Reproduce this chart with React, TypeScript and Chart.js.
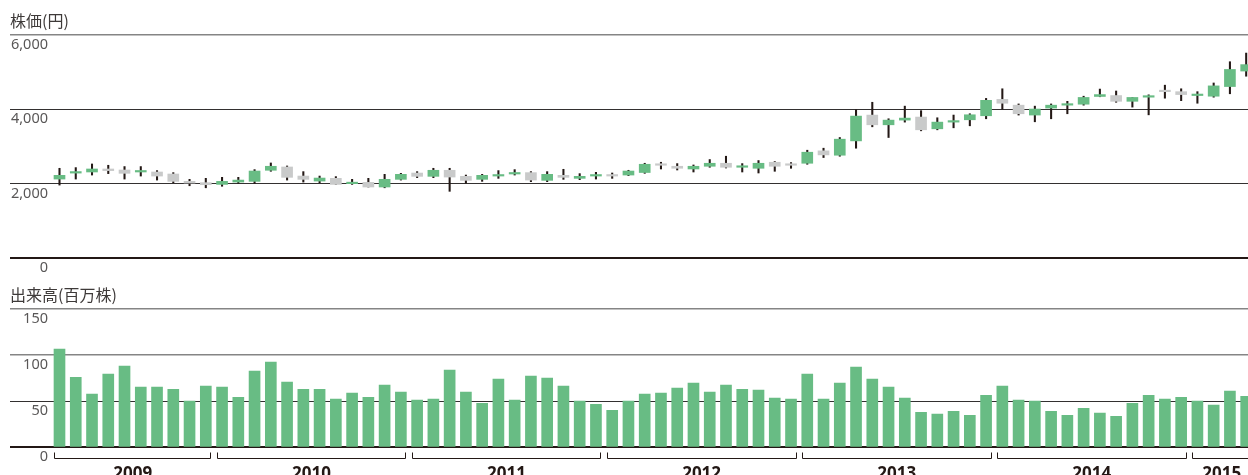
import React, { useEffect, useRef } from 'react';
import { Chart, registerables } from 'chart.js';

Chart.register(...registerables);

// ---- data ----
const years = ['2009', '2010', '2011', '2012', '2013', '2014', '2015'];
const monthsInYear = [10, 12, 12, 12, 12, 12, 4];

const opens = [
  2124, 2285, 2314, 2395, 2368, 2314, 2314, 2260, 2062, 2027,
  1980, 2043, 2062, 2360, 2449, 2205, 2070, 2143, 2000, 2035, 1910, 2116,
  2286, 2197, 2360, 2197, 2116, 2205, 2260, 2297, 2089, 2224, 2143, 2205,
  2232, 2232, 2300, 2522, 2468, 2395, 2468, 2549, 2441, 2414, 2576, 2522,
  2549, 2883, 2765, 3151, 3845, 3584, 3710, 3792, 3476, 3656, 3719, 3827,
  4268, 4112, 3846, 4034, 4112, 4138, 4346, 4371, 4216, 4327, 4501, 4475,
  4371, 4353, 4613, 5030,
];
const highs = [
  2414, 2432, 2530, 2495, 2460, 2460, 2351, 2297, 2116, 2143,
  2170, 2170, 2378, 2557, 2476, 2324, 2205, 2190, 2116, 2143, 2251, 2278,
  2324, 2414, 2414, 2232, 2251, 2351, 2378, 2324, 2324, 2387, 2270, 2305,
  2287, 2360, 2549, 2576, 2540, 2503, 2649, 2738, 2540, 2622, 2595, 2567,
  2900, 2954, 3242, 3990, 4190, 3746, 4086, 3964, 3773, 3846, 3881, 4294,
  4553, 4145, 4086, 4145, 4216, 4353, 4545, 4493, 4320, 4390, 4650, 4553,
  4475, 4709, 5281, 5514,
];
const lows = [
  1962, 2124, 2232, 2270, 2124, 2205, 2097, 2027, 1944, 1889,
  1930, 2008, 2008, 2333, 2097, 2043, 2027, 1980, 1980, 1910, 1889, 2097,
  2162, 2162, 1794, 2016, 2062, 2143, 2232, 2054, 2054, 2116, 2108, 2124,
  2143, 2216, 2278, 2395, 2368, 2314, 2441, 2422, 2314, 2287, 2333, 2414,
  2522, 2703, 2738, 2954, 3530, 3242, 3656, 3422, 3449, 3503, 3557, 3746,
  4008, 3846, 3665, 3746, 3881, 4112, 4338, 4190, 4060, 3852, 4300, 4234,
  4164, 4327, 4419, 4891,
];
const closes = [
  2224, 2300, 2395, 2351, 2278, 2341, 2205, 2062, 2016, 1972,
  2062, 2097, 2340, 2468, 2170, 2116, 2151, 1980, 2035, 1910, 2116, 2251,
  2197, 2360, 2178, 2089, 2224, 2232, 2287, 2097, 2251, 2170, 2197, 2232,
  2205, 2340, 2522, 2495, 2414, 2468, 2549, 2441, 2468, 2549, 2468, 2495,
  2846, 2774, 3197, 3818, 3584, 3710, 3764, 3449, 3656, 3692, 3854, 4242,
  4164, 3881, 4008, 4112, 4145, 4320, 4397, 4216, 4320, 4353, 4475, 4397,
  4405, 4631, 5073, 5203,
];
// 出来高 (百万株)
const volumes = [
  106.5, 76.0, 57.6, 79.3, 88.0, 65.2, 65.2, 63.0, 50.0, 66.3,
  65.2, 54.3, 82.6, 92.4, 70.7, 63.0, 63.0, 52.2, 58.7, 54.3, 67.4, 59.8,
  51.1, 52.2, 83.7, 59.8, 47.8, 73.9, 51.1, 77.2, 75.0, 66.3, 50.0, 46.7,
  40.2, 50.0, 57.6, 58.7, 64.1, 69.6, 59.8, 67.4, 63.0, 62.0, 53.3, 52.2,
  79.3, 52.2, 69.6, 87.0, 73.9, 65.2, 53.3, 38.0, 35.9, 39.1, 34.8, 56.5,
  66.3, 51.1, 50.0, 39.1, 34.8, 42.4, 37.0, 33.7, 47.8, 56.5, 52.2, 54.3,
  50.0, 45.7, 60.9, 55.4,
];
const priceTicks = [0, 2000, 4000, 6000];
const volumeTicks = [0, 50, 100, 150];

// ---- style ----
const GREEN = '#68bc84';
const GRAY = '#c9caca';
const INK = '#231815';
const LABEL = '#595757';
const TITLE = '#3e3a39';
const X_MIN = -0.4614;
const X_MAX = 73.112;
const HALF_BAR = 0.338;

const yearSpans = (() => {
  let s = 0;
  return years.map((label, k) => {
    const start = s;
    s += monthsInYear[k];
    return { label, start, end: s - 1 };
  });
})();

const fmt = (v: number) => Number(v).toLocaleString('en-US');

function yAxis(ticksList: number[], light: number[]) {
  const max = ticksList[ticksList.length - 1];
  return {
    type: 'linear' as const,
    position: 'left' as const,
    min: 0,
    max,
    afterFit: (s: any) => {
      s.width = 42;
    },
    afterBuildTicks: (s: any) => {
      s.ticks = ticksList.map((v) => ({ value: v }));
    },
    border: { display: false },
    grid: {
      drawTicks: true,
      tickLength: 42,
      color: (ctx: any) => {
        const v = ctx.tick ? ctx.tick.value : -1;
        if (v === 0) return INK;
        if (light.includes(v)) return '#858585';
        return '#333030';
      },
      lineWidth: (ctx: any) => {
        const v = ctx.tick ? ctx.tick.value : -1;
        if (v === 0) return 2;
        if (light.includes(v)) return 1.5;
        return 1;
      },
    },
    ticks: {
      padding: -38,
      labelOffset: 10,
      color: LABEL,
      font: { family: 'Noto Sans', size: 14.5 },
      callback: (v: any) => fmt(v),
    },
  };
}

const basePlugins = {
  legend: { display: false },
  tooltip: { enabled: false },
};

export default function App() {
  const priceRef = useRef<HTMLCanvasElement>(null);
  const volRef = useRef<HTMLCanvasElement>(null);

  useEffect(() => {
    const bodyColors = opens.map((o, i) => (closes[i] >= o ? GREEN : GRAY));
    const price = new Chart(priceRef.current as HTMLCanvasElement, {
      type: 'bar',
      data: {
        datasets: [
          {
            label: 'body',
            data: opens.map((o, i) => ({ x: i, y: [o, closes[i]] })) as any,
            backgroundColor: bodyColors,
            barThickness: 11,
            minBarLength: 1.5,
            grouped: false,
            order: 0,
          },
          {
            label: 'wick',
            data: lows.map((l, i) => ({ x: i, y: [l, highs[i]] })) as any,
            backgroundColor: INK,
            barThickness: 1.4,
            grouped: false,
            order: 1,
          },
        ],
      },
      options: {
        animation: false,
        responsive: false,
        maintainAspectRatio: false,
        layout: { padding: { left: 10, right: 0, top: 0, bottom: 22 } },
        plugins: {
          ...basePlugins,
          title: {
            display: true,
            text: '株価(円)',
            align: 'start',
            color: TITLE,
            font: { family: 'Noto Sans CJK JP', size: 16, weight: 'normal' },
            padding: { top: 11.5, bottom: 4.3 },
          },
        },
        scales: {
          x: {
            type: 'linear',
            min: X_MIN,
            max: X_MAX,
            offset: false,
            grid: { offset: false },
            display: false,
          },
          y: yAxis(priceTicks, [6000]) as any,
        },
      } as any,
    });

    const brackets = {
      id: 'yearBrackets',
      afterDraw(chart: any) {
        const xs = chart.scales.x;
        const ctx = chart.ctx;
        const yH = Math.round(xs.top + 11) + 0.5;
        const yT = yH - 6;
        ctx.save();
        ctx.strokeStyle = INK;
        ctx.lineWidth = 1;
        yearSpans.forEach((sp) => {
          const x1 = Math.round(xs.getPixelForValue(sp.start - HALF_BAR)) + 0.5;
          const x2 = Math.round(xs.getPixelForValue(sp.end + HALF_BAR)) - 0.5;
          ctx.beginPath();
          ctx.moveTo(x1, yT);
          ctx.lineTo(x1, yH);
          ctx.lineTo(x2, yH);
          ctx.lineTo(x2, yT);
          ctx.stroke();
        });
        ctx.restore();
      },
    };

    const vol = new Chart(volRef.current as HTMLCanvasElement, {
      type: 'bar',
      data: {
        datasets: [
          {
            label: '出来高',
            data: volumes.map((v, i) => ({ x: i, y: v })) as any,
            backgroundColor: GREEN,
            barThickness: 11,
          },
        ],
      },
      options: {
        animation: false,
        responsive: false,
        maintainAspectRatio: false,
        layout: { padding: { left: 10, right: 0, top: 0, bottom: 0 } },
        plugins: {
          ...basePlugins,
          title: {
            display: true,
            text: '出来高(百万株)',
            align: 'start',
            color: TITLE,
            font: { family: 'Noto Sans CJK JP', size: 16, weight: 'normal' },
            padding: { top: 5.4, bottom: 4.4 },
          },
        },
        scales: {
          x: {
            type: 'linear',
            min: X_MIN,
            max: X_MAX,
            offset: false,
            grid: { display: false, offset: false },
            border: { display: false },
            afterBuildTicks: (s: any) => {
              s.ticks = yearSpans.map((sp) => ({ value: (sp.start + sp.end) / 2 }));
            },
            afterFit: (s: any) => {
              s.height = 27.7;
            },
            ticks: {
              autoSkip: false,
              maxRotation: 0,
              padding: 0,
              color: INK,
              font: { family: 'Noto Sans', size: 17, weight: 'bold', lineHeight: 2.26 },
              callback: (_v: any, i: number) => years[i],
            },
          },
          y: yAxis(volumeTicks, [100, 150]) as any,
        },
      } as any,
      plugins: [brackets],
    });

    return () => {
      price.destroy();
      vol.destroy();
    };
  }, []);

  return (
    <div
      style={{
        position: 'fixed',
        left: 0,
        top: 0,
        width: 1248,
        height: 475,
        overflow: 'hidden',
        background: '#ffffff',
      }}
    >
      <canvas
        ref={priceRef}
        width={1248}
        height={280}
        style={{ position: 'absolute', left: 0, top: 0, width: 1248, height: 280, display: 'block' }}
      />
      <canvas
        ref={volRef}
        width={1248}
        height={195}
        style={{ position: 'absolute', left: 0, top: 280, width: 1248, height: 195, display: 'block' }}
      />
    </div>
  );
}
